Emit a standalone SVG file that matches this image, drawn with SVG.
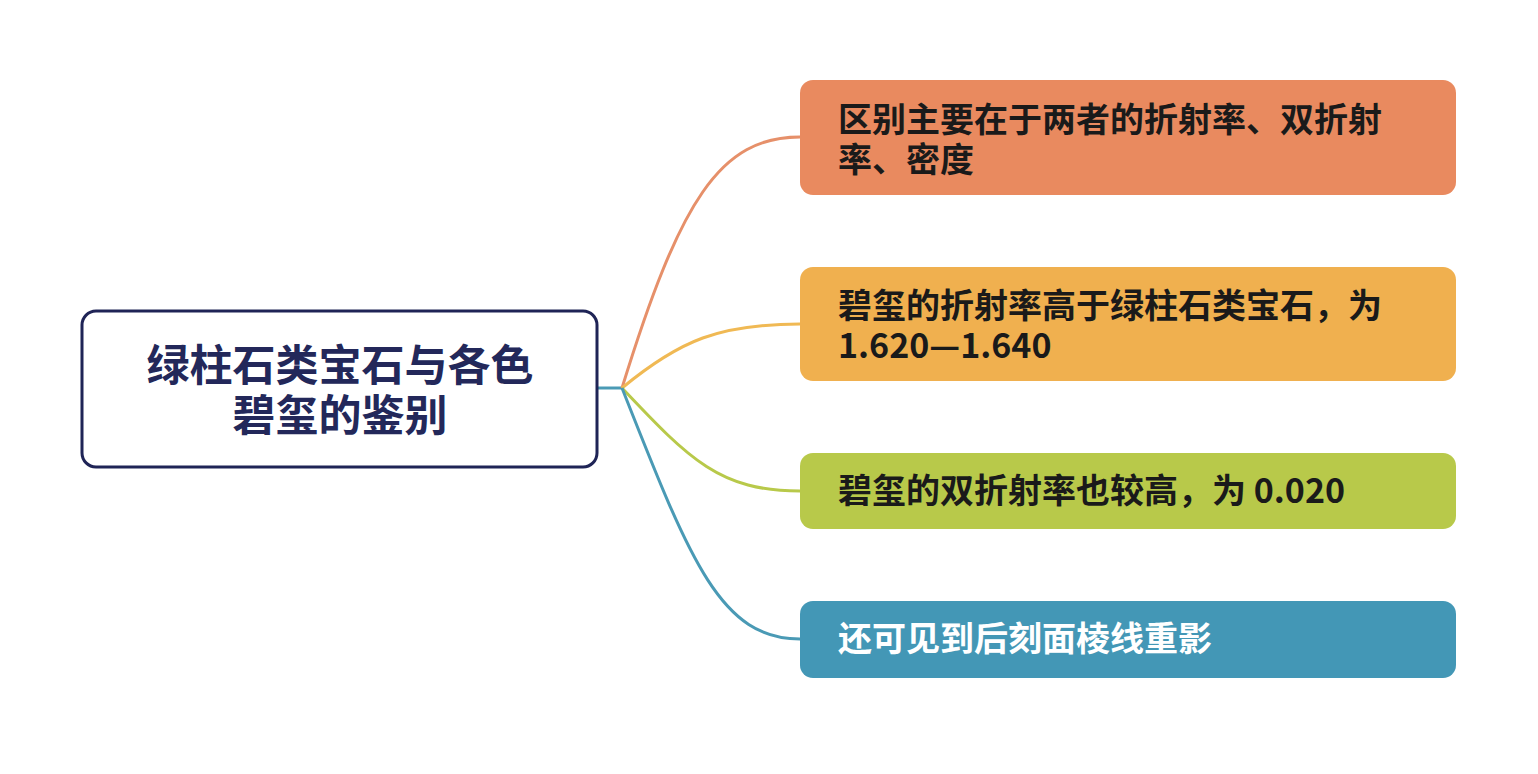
<svg xmlns="http://www.w3.org/2000/svg" width="1538" height="774" viewBox="0 0 1538 774">
<style>
.t{font-family:"Noto Sans CJK SC","Noto Sans",sans-serif;font-weight:bold;font-size:34px}
.r{font-size:43px;fill:#23285a}
.c{fill:none;stroke-width:3}
</style>
<rect width="1538" height="774" fill="#fff"/>
<g id="connectors">
<path class="c" stroke="#4a9ab5" d="M598 388H622"/>
<path class="c" stroke="#e6906a" d="M622 388C680 200 720 137 800 137"/>
<path class="c" stroke="#f0b954" d="M622 388C680 340 720 324 800 324"/>
<path class="c" stroke="#b8c94a" d="M622 388C690 460 720 491 800 491"/>
<path class="c" stroke="#4a9ab5" d="M622 388C690 560 720 639 800 639"/>
</g>
<g id="root">
<rect x="82" y="311" width="515" height="156" rx="14" fill="#fff" stroke="#1f2456" stroke-width="3"/>
<text class="t r" x="340" y="381" text-anchor="middle">绿柱石类宝石与各色</text>
<text class="t r" x="340" y="431" text-anchor="middle">碧玺的鉴别</text>
</g>
<g id="n1">
<rect x="800" y="80" width="656" height="115" rx="13" fill="#e98a5f"/>
<text class="t" x="838" y="132" fill="#1a1a1a">区别主要在于两者的折射率、双折射</text>
<text class="t" x="838" y="172" fill="#1a1a1a">率、密度</text>
</g>
<g id="n2">
<rect x="800" y="267" width="656" height="114" rx="13" fill="#f0b04f"/>
<text class="t" x="838" y="318" fill="#1a1a1a">碧玺的折射率高于绿柱石类宝石，为</text>
<text class="t" x="838" y="358" fill="#1a1a1a">1.620—1.640</text>
</g>
<g id="n3">
<rect x="800" y="453" width="656" height="76" rx="13" fill="#b8c94a"/>
<text class="t" x="838" y="503" fill="#1a1a1a">碧玺的双折射率也较高，为 0.020</text>
</g>
<g id="n4">
<rect x="800" y="601" width="656" height="77" rx="13" fill="#4397b6"/>
<text class="t" x="838" y="651" fill="#fff">还可见到后刻面棱线重影</text>
</g>
</svg>
